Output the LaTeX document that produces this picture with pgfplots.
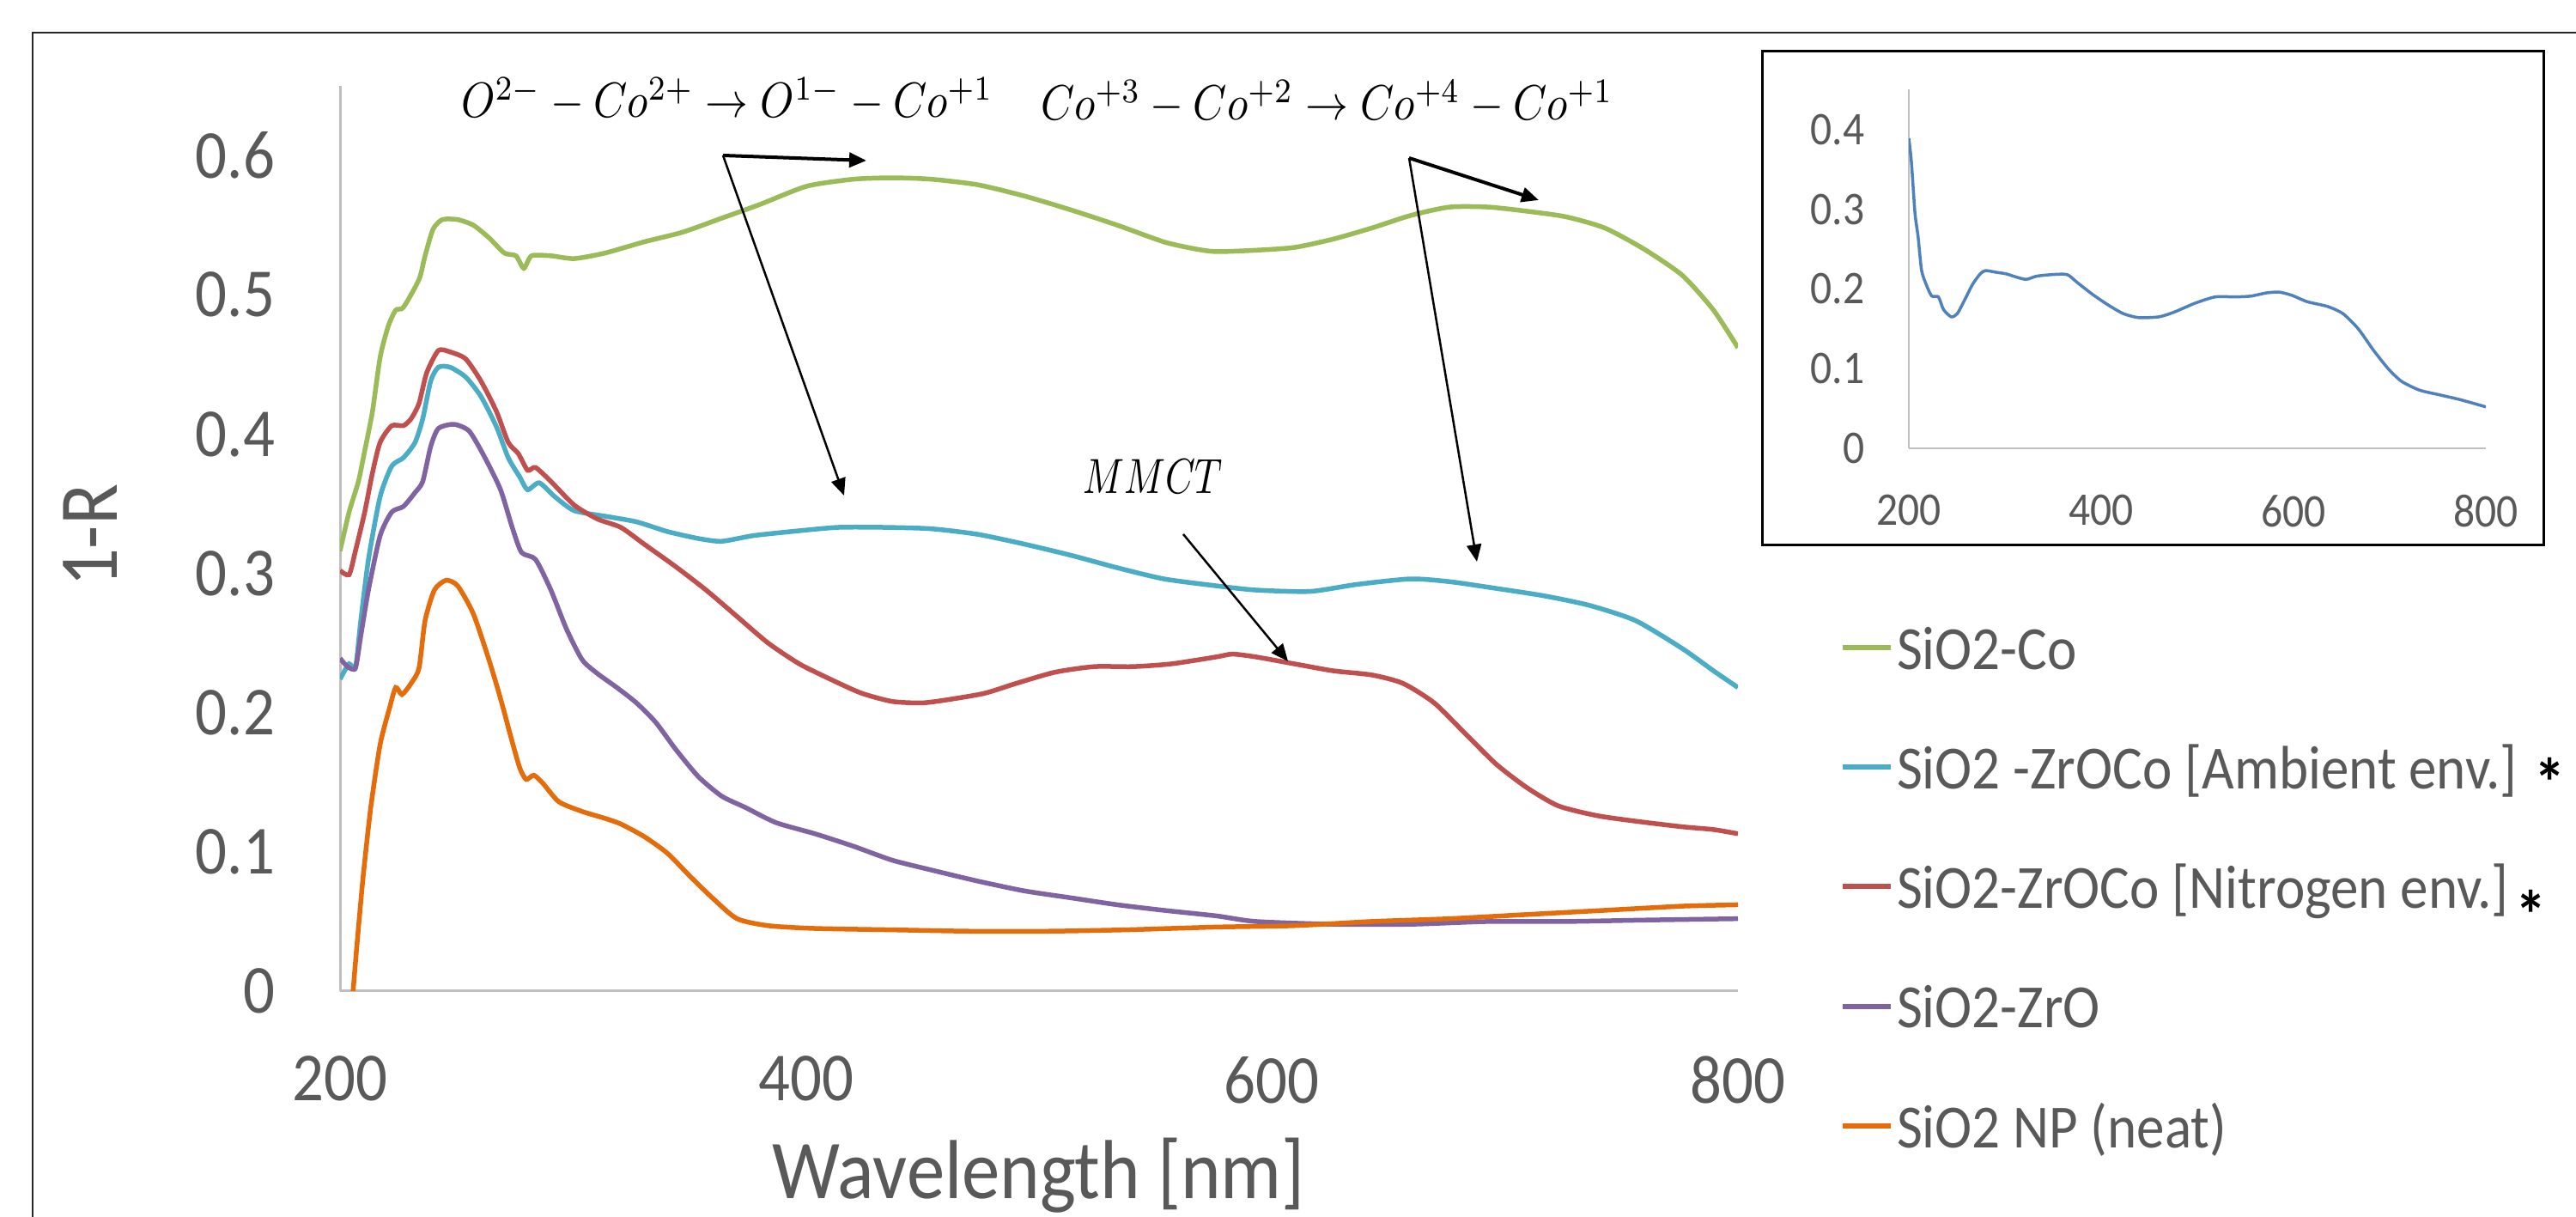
\documentclass[border=0pt]{standalone}
\usepackage{fontspec}
\setmainfont{Carlito}[FakeStretch=0.91]
\usepackage{xcolor}
\usepackage{graphicx}
\usepackage{pgfplots}
\pgfplotsset{compat=1.18}
\usetikzlibrary{arrows.meta}

\definecolor{cGreen}{HTML}{9BBB59}
\definecolor{cCyan}{HTML}{4BACC6}
\definecolor{cRed}{HTML}{C0504D}
\definecolor{cPurple}{HTML}{8064A2}
\definecolor{cOrange}{HTML}{E46C0A}
\definecolor{cBlue}{HTML}{4F81BD}
\definecolor{txtgray}{HTML}{595959}
\definecolor{axgray}{HTML}{BFBFBF}

\newcommand\tickfont{\fontsize{16}{18}\selectfont}
\newcommand\labfont{\fontsize{19.5}{22}\selectfont}
\newcommand\legfont{\fontsize{14.3}{16}\selectfont}
\newcommand\insfont{\fontsize{10.9}{12}\selectfont}
\newcommand\mathfont{\fontsize{10}{12}\selectfont}
\newcommand\ls{\rule[-3pt]{0pt}{14.6pt}\hspace{0.8pt}}
\newcommand\legstar{\textcolor{black}{\fontsize{16}{16}\selectfont\bfseries *}}

\begin{document}
\begin{tikzpicture}
\path[use as bounding box] (0,0) rectangle (600pt,283.4pt);

% main chart
\begin{axis}[
  at={(79.2pt,52.6pt)}, anchor=south west,
  scale only axis, width=325.6pt, height=210.8pt,
  xmin=200, xmax=800, ymin=0, ymax=0.65,
  xtick={200,400,600,800}, ytick={0,0.1,0.2,0.3,0.4,0.5,0.6},
  axis lines=left, axis line style={-, draw=axgray, line width=0.6pt},
  major tick length=0pt,
  /pgf/number format/assume math mode=true,
  tick label style={font=\tickfont, text=txtgray},
  xticklabel style={inner sep=0pt, anchor=north, yshift=-15pt},
  yticklabel style={inner sep=0pt, anchor=east, xshift=-15pt,
    /pgf/number format/fixed, /pgf/number format/precision=1},
  xlabel={Wavelength [nm]},
  xlabel style={at={(axis description cs:0.5,-0.2296)}, anchor=base,
    font=\labfont, text=txtgray, inner sep=0pt},
  ylabel={1-R},
  ylabel style={at={(axis description cs:-0.1597,0.503)}, anchor=base,
    font=\labfont, text=txtgray, inner sep=0pt},
  every axis plot/.append style={line width=1.1pt, smooth, tension=0.4},
  legend style={at={(axis description cs:1.0731,0.4108)}, anchor=north west,
    draw=none, fill=none, inner sep=0pt, outer sep=0pt, row sep=14.75pt,
    font=\legfont, cells={anchor=west},
    nodes={inner sep=0pt, outer sep=0pt, text=txtgray}},
  legend image code/.code={\draw[#1, line width=1.2pt] (0pt,0pt) -- (11.2pt,0pt);},
]
\addplot[cGreen] coordinates {
(200.0,0.316) (203.9,0.344) (207.9,0.366) (210.6,0.388) (213.9,0.416)
(217.2,0.455) (220.6,0.477) (223.9,0.489) (227.2,0.491) (233.9,0.511)
(236.5,0.528) (239.9,0.547) (243.9,0.554) (250.5,0.554) (257.2,0.550)
(263.9,0.541) (270.5,0.530) (275.5,0.528) (278.9,0.519) (282.2,0.528)
(290.5,0.528) (300.5,0.526) (313.8,0.530) (330.5,0.538) (347.1,0.545)
(363.8,0.555) (380.4,0.565) (400.4,0.578) (420.4,0.583) (437.0,0.584)
(453.7,0.583) (473.7,0.579) (493.6,0.571) (513.6,0.561) (533.6,0.550)
(553.6,0.538) (566.9,0.533) (576.2,0.531) (593.0,0.532) (609.6,0.534)
(626.3,0.540) (642.9,0.548) (659.6,0.557) (676.2,0.563) (692.9,0.563)
(709.5,0.560) (726.2,0.556) (742.8,0.548) (759.5,0.533) (776.1,0.514)
(789.5,0.489) (800.0,0.462)
};
\addlegendentry{\ls SiO2-Co}
\addplot[cCyan] coordinates {
(200.0,0.224) (203.9,0.235) (206.6,0.232) (208.9,0.266) (212.2,0.310)
(217.2,0.355) (222.2,0.377) (227.2,0.383) (232.2,0.394) (235.5,0.411)
(238.9,0.438) (242.2,0.448) (247.2,0.448) (253.9,0.441) (260.5,0.427)
(267.2,0.405) (272.2,0.383) (277.2,0.369) (280.5,0.360) (285.5,0.365)
(292.2,0.355) (300.5,0.345) (313.8,0.341) (327.2,0.337) (340.5,0.330)
(353.8,0.325) (363.8,0.323) (377.1,0.327) (393.7,0.330) (413.7,0.333)
(433.7,0.333) (453.7,0.332) (473.7,0.328) (493.6,0.321) (513.6,0.313)
(533.6,0.304) (553.6,0.296) (576.2,0.291) (593.0,0.288) (616.3,0.287)
(636.3,0.292) (659.6,0.296) (676.2,0.294) (692.9,0.290) (716.2,0.284)
(736.2,0.277) (756.1,0.266) (776.1,0.246) (789.5,0.230) (800.0,0.218)
};
\addlegendentry{\ls SiO2 -ZrOCo [Ambient env.]\hspace{4pt}\raisebox{-0.3em}{\legstar}}
\addplot[cRed] coordinates {
(200.0,0.302) (203.9,0.299) (206.6,0.316) (210.6,0.344) (213.9,0.372)
(217.2,0.394) (222.2,0.406) (227.2,0.406) (230.5,0.411) (233.9,0.422)
(237.2,0.444) (242.2,0.460) (247.2,0.459) (253.9,0.454) (260.5,0.438)
(267.2,0.416) (272.2,0.394) (276.5,0.386) (280.5,0.374) (283.9,0.376)
(290.5,0.366) (300.5,0.349) (310.5,0.339) (320.5,0.333) (330.5,0.321)
(343.9,0.305) (357.1,0.288) (370.4,0.269) (383.7,0.250) (397.1,0.235)
(410.4,0.224) (423.7,0.214) (437.0,0.208) (450.3,0.207) (463.7,0.210)
(477.0,0.214) (490.3,0.221) (506.9,0.229) (523.6,0.233) (540.3,0.233)
(556.9,0.235) (576.2,0.240) (583.0,0.242) (593.0,0.240) (609.6,0.235)
(626.3,0.230) (642.9,0.227) (656.2,0.221) (669.6,0.207) (682.9,0.185)
(696.2,0.163) (709.5,0.146) (722.9,0.133) (739.5,0.126) (756.2,0.122)
(776.1,0.118) (789.5,0.116) (800.0,0.113)
};
\addlegendentry{\ls SiO2-ZrOCo [Nitrogen env.]\hspace{1.5pt}\raisebox{-0.5em}{\legstar}}
\addplot[cPurple] coordinates {
(200.0,0.239) (203.2,0.233) (206.6,0.232) (208.9,0.255) (212.2,0.288)
(217.2,0.327) (222.2,0.344) (227.2,0.348) (232.2,0.358) (235.5,0.366)
(238.9,0.391) (242.2,0.404) (248.9,0.407) (255.5,0.402) (262.2,0.383)
(268.9,0.360) (273.9,0.333) (277.9,0.315) (283.9,0.310) (290.5,0.288)
(297.2,0.260) (303.9,0.238) (310.5,0.228) (318.8,0.218) (327.2,0.207)
(335.5,0.193) (343.9,0.174) (353.8,0.154) (363.8,0.140) (373.8,0.132)
(387.1,0.121) (403.8,0.113) (420.4,0.104) (437.0,0.094) (453.7,0.087)
(473.7,0.079) (493.6,0.072) (513.6,0.067) (533.6,0.062) (553.6,0.058)
(576.2,0.054) (593.0,0.050) (626.3,0.048) (659.6,0.048) (692.9,0.050)
(726.2,0.050) (759.5,0.051) (800.0,0.052)
};
\addlegendentry{\ls SiO2-ZrO}
\addplot[cOrange] coordinates {
(205.0,-0.010) (205.6,0.000) (207.2,0.032) (209.9,0.082) (213.2,0.132)
(217.2,0.177) (221.2,0.203) (223.9,0.218) (226.6,0.213) (230.5,0.221)
(233.9,0.232) (236.5,0.266) (240.5,0.288) (245.5,0.295) (250.5,0.291)
(257.2,0.271) (263.9,0.238) (268.9,0.210) (273.9,0.179) (277.2,0.160)
(279.9,0.152) (283.2,0.155) (287.2,0.149) (293.9,0.136) (303.9,0.129)
(313.8,0.124) (320.5,0.120) (330.5,0.111) (340.5,0.099) (350.5,0.082)
(360.4,0.066) (370.4,0.052) (383.7,0.047) (403.8,0.045) (437.0,0.044)
(470.4,0.043) (503.7,0.043) (537.0,0.044) (576.2,0.046) (609.6,0.047)
(642.9,0.050) (676.2,0.052) (709.5,0.055) (742.8,0.058) (776.1,0.061)
(800.0,0.062)
};
\addlegendentry{\ls SiO2 NP (neat)}
\end{axis}

% inset chart
\draw[line width=0.6pt, black] (410.4pt,156.4pt) rectangle (592.4pt,271.4pt);
\begin{axis}[
  at={(444.6pt,179.0pt)}, anchor=south west,
  scale only axis, width=134.4pt, height=83.5pt,
  xmin=200, xmax=800, ymin=0, ymax=0.45,
  xtick={200,400,600,800}, ytick={0,0.1,0.2,0.3,0.4},
  axis lines=left, axis line style={-, draw=axgray, line width=0.5pt},
  major tick length=0pt,
  /pgf/number format/assume math mode=true,
  tick label style={font=\insfont, text=txtgray},
  xticklabel style={inner sep=0pt, anchor=north, yshift=-10.7pt},
  yticklabel style={inner sep=0pt, anchor=east, xshift=-10.1pt,
    /pgf/number format/fixed, /pgf/number format/precision=1},
]
\addplot[cBlue, line width=0.7pt, smooth, tension=0.4] coordinates {
(200.0,0.389) (202.7,0.359) (206.4,0.295) (209.6,0.266) (213.3,0.223)
(218.6,0.204) (223.9,0.191) (230.8,0.190) (236.1,0.174) (244.1,0.165)
(250.4,0.169) (258.4,0.187) (266.4,0.206) (274.3,0.219) (279.7,0.223)
(290.3,0.221) (300.9,0.219) (311.5,0.215) (322.1,0.212) (332.8,0.216)
(348.7,0.218) (364.6,0.218) (375.2,0.208) (391.2,0.193) (407.1,0.180)
(423.0,0.169) (439.0,0.164) (460.2,0.165) (476.1,0.171) (497.4,0.182)
(518.6,0.190) (539.8,0.190) (555.8,0.191) (571.7,0.195) (585.0,0.196)
(598.3,0.192) (614.2,0.184) (635.4,0.178) (651.4,0.169) (667.3,0.150)
(683.2,0.123) (699.1,0.099) (712.4,0.084) (731.0,0.073) (752.2,0.067)
(773.5,0.061) (800.0,0.052)
};
\end{axis}

% outer frame
\draw[line width=0.5pt, black!85] (7.6pt,-5pt) -- (7.6pt,275.8pt) -- (610pt,275.8pt);

% annotations
\node[anchor=base west, inner sep=0pt] at (107.2pt,256pt)
  {\mathfont\scalebox{1}[1.15]{$O^{2-}-Co^{2+}\rightarrow O^{1-}-Co^{+1}$}};
\node[anchor=base west, inner sep=0pt] at (242.2pt,255.4pt)
  {\mathfont\scalebox{1}[1.15]{$Co^{+3}-Co^{+2}\rightarrow Co^{+4}-Co^{+1}$}};
\node[anchor=base west, inner sep=0pt] at (252pt,168.4pt)
  {\mathfont\scalebox{0.89}[1.15]{$MMCT$}};
\tikzset{ann/.style={-{Triangle[length=4pt,width=3.4pt]}, black}}
\draw[ann, line width=0.8pt] (168.4pt,247.2pt) -- (201.8pt,246.0pt);
\draw[ann, line width=0.5pt] (168.4pt,247.2pt) -- (196.6pt,168.0pt);
\draw[ann, line width=0.8pt] (328.2pt,246.6pt) -- (358.4pt,236.8pt);
\draw[ann, line width=0.5pt] (328.2pt,246.6pt) -- (344.0pt,152.6pt);
\draw[ann, line width=0.5pt] (275.6pt,159.0pt) -- (300.0pt,129.4pt);
\end{tikzpicture}
\end{document}
